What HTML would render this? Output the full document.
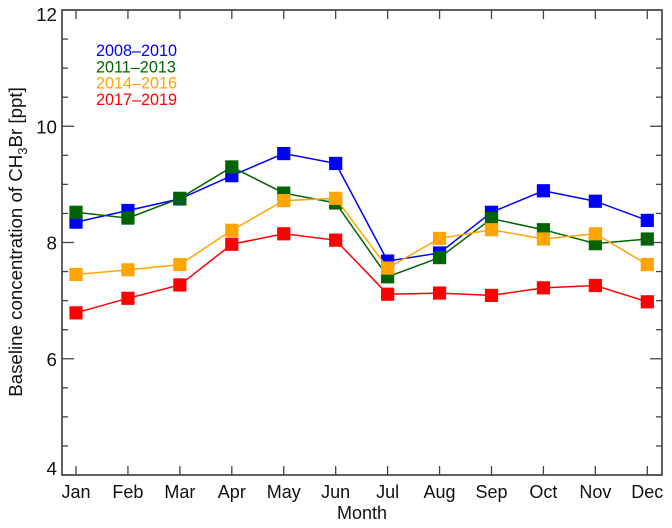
<!DOCTYPE html>
<html>
<head>
<meta charset="utf-8">
<style>
html,body{margin:0;padding:0;background:#fff;}
svg{display:block;}
text{font-family:"Liberation Sans",Arial,sans-serif;fill:#111;}
</style>
</head>
<body>
<svg id="chart" width="672" height="528" viewBox="0 0 672 528" xmlns="http://www.w3.org/2000/svg"></svg>
<script>
const months = ["Jan","Feb","Mar","Apr","May","Jun","Jul","Aug","Sep","Oct","Nov","Dec"];
const yTicks = [4,6,8,10,12];
const yMinorTicks = [4.5,5,5.5,6.5,7,7.5,8.5,9,9.5,10.5,11,11.5];
const seriesNames = ["2008–2010","2011–2013","2014–2016","2017–2019"];
const seriesColors = ["#0000ff","#006400","#ffa500","#ff0000"];
const values2008 = [8.35,8.55,8.75,9.15,9.53,9.36,7.68,7.82,8.52,8.89,8.71,8.38];
const values2011 = [8.52,8.42,8.76,9.30,8.85,8.68,7.41,7.74,8.41,8.22,7.98,8.06];
const values2014 = [7.45,7.53,7.62,8.21,8.72,8.76,7.56,8.07,8.22,8.06,8.15,7.62];
const values2017 = [6.79,7.04,7.27,7.97,8.15,8.04,7.11,7.13,7.09,7.22,7.26,6.98];
const allSeries = [values2008,values2011,values2014,values2017];

const svg = document.getElementById('chart');
const NS = 'http://www.w3.org/2000/svg';
const plot = {left:62, right:662, top:10, bottom:475};
const xScale = i => 76 + i * (647.3 - 76) / (months.length - 1);
const yScale = v => plot.bottom - (v - 4) * (plot.bottom - plot.top) / 8;
const axisColor = '#444';

function add(tag, attrs, parent, txt){
  const el = document.createElementNS(NS, tag);
  for (const k in attrs) el.setAttribute(k, attrs[k]);
  if (txt !== undefined) el.textContent = txt;
  (parent || svg).appendChild(el);
  return el;
}
function tickLine(x1,y1,x2,y2,w){
  return add('line',{x1:x1,y1:y1,x2:x2,y2:y2,stroke:axisColor,'stroke-width':w});
}

// Series
allSeries.forEach(function(vals, s){
  const g = add('g',{});
  
  
  const pts = vals.map(function(v,i){ return xScale(i).toFixed(2)+','+yScale(v).toFixed(2); }).join(' ');
  const line = add('polyline',{points:pts,fill:'none',stroke:seriesColors[s],'stroke-width':1.5},g);
  
  
  vals.forEach(function(v,i){
    const r = add('rect',{x:xScale(i)-6.6,y:yScale(v)-6.6,width:13.2,height:13.2,fill:seriesColors[s]},g);
    
    
  });
});

// Frame
const frame = add('rect',{x:plot.left,y:plot.top,width:plot.right-plot.left,height:plot.bottom-plot.top,fill:'none',stroke:axisColor,'stroke-width':1.7});



// X axis ticks and labels
months.forEach(function(m,i){
  const x = xScale(i);
  const t1 = tickLine(x,plot.bottom,x,plot.bottom-9,1.3);
  
  
  const t2 = tickLine(x,plot.top,x,plot.top+9,1.3);
  
  
  const lab = add('text',{x:x,y:498,'text-anchor':'middle','font-size':18},svg,m);
  
  
});

// Y axis ticks and labels
yTicks.forEach(function(v){
  const y = yScale(v);
  const t1 = tickLine(plot.left,y,plot.left+12,y,1.3);
  
  
  const t2 = tickLine(plot.right,y,plot.right-12,y,1.3);
  
  
  const baseline = v === 12 ? y + 11 : (v === 4 ? y : y + 7);
  const lab = add('text',{x:57,y:baseline,'text-anchor':'end','font-size':18.8},svg,String(v));
  
  
});
yMinorTicks.forEach(function(v){
  const y = yScale(v);
  const t1 = tickLine(plot.left,y,plot.left+6,y,1.3);
  
  
  const t2 = tickLine(plot.right,y,plot.right-6,y,1.3);
  
  
});

// Legend
seriesNames.forEach(function(n,s){
  const t = add('text',{x:96,y:56+s*16.3,'font-size':16.2,style:'fill:'+seriesColors[s]},svg,n);
  
  
});

// Axis titles
const xTitle = add('text',{x:362,y:519,'text-anchor':'middle','font-size':18},svg,'Month');



const yTitle = add('text',{transform:'translate(22,242) rotate(-90)','text-anchor':'middle','font-size':18.7},svg);


add('tspan',{},yTitle,'Baseline concentration of CH');
add('tspan',{dy:5,'font-size':13},yTitle,'3');
add('tspan',{dy:-5},yTitle,'Br [ppt]');
</script>
</body>
</html>
